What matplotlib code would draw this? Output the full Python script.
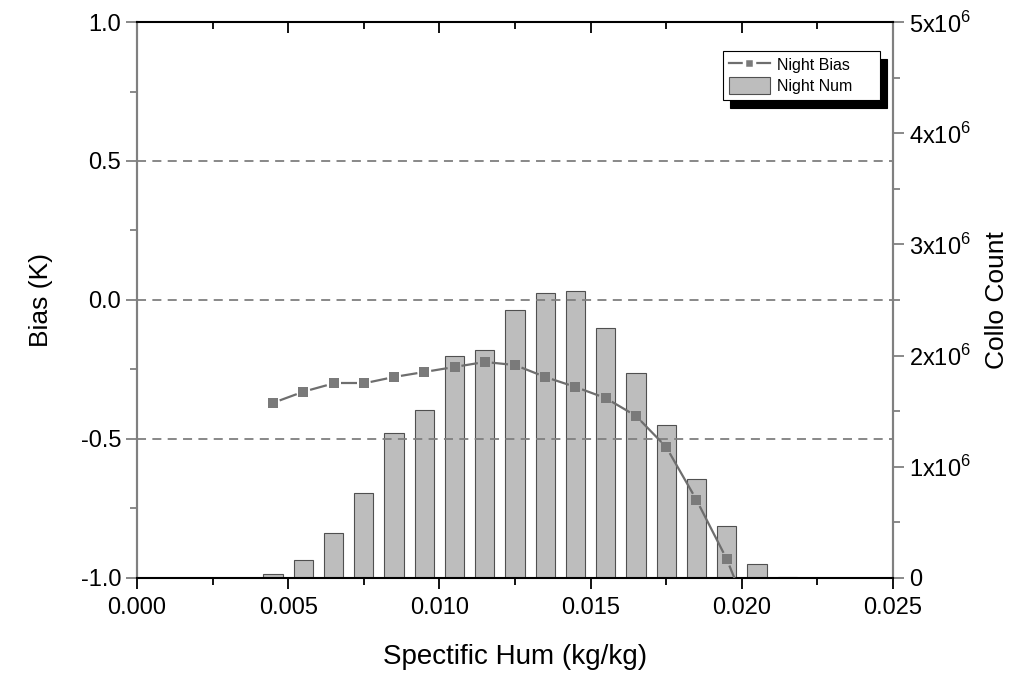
import matplotlib
matplotlib.use('Agg')
import matplotlib.pyplot as plt
from matplotlib.lines import Line2D
import numpy as np
from matplotlib.ticker import MultipleLocator, FixedLocator, FixedFormatter

plt.rcParams['font.family'] = ['Liberation Sans', 'DejaVu Sans']
plt.rcParams['mathtext.fontset'] = 'custom'
plt.rcParams['mathtext.rm'] = 'Liberation Sans'

# specific humidity bins (kg/kg)
hum = [0.0045, 0.0055, 0.0065, 0.0075, 0.0085, 0.0095, 0.0105, 0.0115, 0.0125,
       0.0135, 0.0145, 0.0155, 0.0165, 0.0175, 0.0185, 0.0195, 0.0205, 0.0215]
# collocation counts per bin
night_num = [35000, 160000, 400000, 760000, 1300000, 1510000, 2000000, 2050000, 2410000,
             2560000, 2580000, 2250000, 1840000, 1380000, 890000, 470000, 130000, 10000]
# night bias (K), last one falls below the axis
night_bias = [-0.37, -0.33, -0.30, -0.30, -0.277, -0.259, -0.241, -0.223, -0.234,
              -0.277, -0.313, -0.353, -0.417, -0.529, -0.719, -0.932, -1.2]

right_ticks = [0, 1e6, 2e6, 3e6, 4e6, 5e6]
right_labels = ['0', r'1x10$^{\mathregular{6}}$', r'2x10$^{\mathregular{6}}$', r'3x10$^{\mathregular{6}}$',
                r'4x10$^{\mathregular{6}}$', r'5x10$^{\mathregular{6}}$']

line_c = '#6e6e6e'
mark_c = '#7a7a7a'

fig = plt.figure(figsize=(10.33, 6.73), dpi=100)
ax = fig.add_axes([0.1326, 0.1412, 0.7319, 0.8261])
ax2 = ax.twinx()
ax.set_zorder(ax2.get_zorder() + 1)
ax.patch.set_visible(False)

ax.set_xlim(0, 0.025)
ax.set_ylim(-1, 1)
ax2.set_ylim(0, 5e6)

bars = ax2.bar(hum, night_num, width=0.00064, color='#bdbdbd', edgecolor='#505050',
               linewidth=0.8, label='Night Num')

for yv in [0.5, 0.0, -0.5]:
    ax.axhline(yv, color='#7f7f7f', linestyle=(0, (5, 3.5)), linewidth=1.3, zorder=1)

# line segments with a small gap around each symbol (origin style)
bx = hum[:len(night_bias)]
pts = ax.transData.transform(np.column_stack([bx, night_bias]))
inv = ax.transData.inverted()
gap = 7
for i in range(len(pts) - 1):
    p0, p1 = pts[i], pts[i + 1]
    d = p1 - p0
    L = np.hypot(d[0], d[1])
    if L <= 2 * gap:
        continue
    u = d / L
    seg = inv.transform(np.array([p0 + u * gap, p1 - u * gap]))
    ax.plot(seg[:, 0], seg[:, 1], color=line_c, linewidth=1.6, zorder=3, solid_capstyle='butt')
ax.plot(bx, night_bias, linestyle='none', marker='s', markersize=7.5,
        markerfacecolor=mark_c, markeredgewidth=0, zorder=4)

ax.xaxis.set_major_locator(MultipleLocator(0.005))
ax.xaxis.set_minor_locator(MultipleLocator(0.0025))
ax.yaxis.set_major_locator(MultipleLocator(0.5))
ax.yaxis.set_minor_locator(MultipleLocator(0.25))
ax.xaxis.set_major_formatter(plt.FormatStrFormatter('%.3f'))
ax.yaxis.set_major_formatter(plt.FormatStrFormatter('%.1f'))
ax2.yaxis.set_major_locator(FixedLocator(right_ticks))
ax2.yaxis.set_major_formatter(FixedFormatter(right_labels))
ax2.yaxis.set_minor_locator(MultipleLocator(5e5))

ax.tick_params(axis='x', which='both', direction='out', top=True, color='black', labelsize=17, pad=6)
ax.tick_params(axis='x', which='major', length=8, width=1.3)
ax.tick_params(axis='x', which='minor', length=5, width=1.3)
ax.tick_params(axis='y', which='both', direction='out', color='#808080', labelsize=17)
ax.tick_params(axis='y', which='major', length=8, width=1.3)
ax.tick_params(axis='y', which='minor', length=5, width=1.3)
ax2.tick_params(axis='y', which='both', direction='out', color='#808080', labelsize=17)
ax2.tick_params(axis='y', which='major', length=8, width=1.3)
ax2.tick_params(axis='y', which='minor', length=5, width=1.3)

for s in ['top', 'bottom']:
    ax.spines[s].set_color('black')
    ax.spines[s].set_linewidth(1.5)
    ax2.spines[s].set_visible(False)
for s in ['left', 'right']:
    ax.spines[s].set_color('#808080')
    ax.spines[s].set_linewidth(1.5)
    ax2.spines[s].set_color('#808080')
    ax2.spines[s].set_linewidth(1.5)

# top ticks point inward
for t in ax.xaxis.get_major_ticks() + ax.xaxis.get_minor_ticks():
    t.tick2line.set_marker(3)

ax.set_xlabel('Spectific Hum (kg/kg)', fontsize=20, labelpad=18)
ax.set_ylabel('Bias (K)', fontsize=19, labelpad=20)
ax2.set_ylabel('Collo Count', fontsize=19, labelpad=10)

bias_handle = Line2D([], [], color=line_c, linewidth=1.6, marker='s', markersize=7.5,
                     markerfacecolor=mark_c, markeredgecolor='white', markeredgewidth=2.5)
leg = ax.legend([bias_handle, bars], ['Night Bias', 'Night Num'], loc='upper left',
                bbox_to_anchor=(0.775, 0.5, 0.208, 0.448), mode='expand', borderaxespad=0,
                fontsize=11.5, frameon=True, fancybox=False, edgecolor='black', framealpha=1,
                shadow={'color': 'black', 'alpha': 1, 'ox': 5, 'oy': -6},
                handlelength=2.6, handleheight=1.25, handletextpad=0.45,
                labelspacing=0.25, borderpad=0.35)
leg.get_frame().set_linewidth(0.8)

fig.savefig('out.png', dpi=100)
